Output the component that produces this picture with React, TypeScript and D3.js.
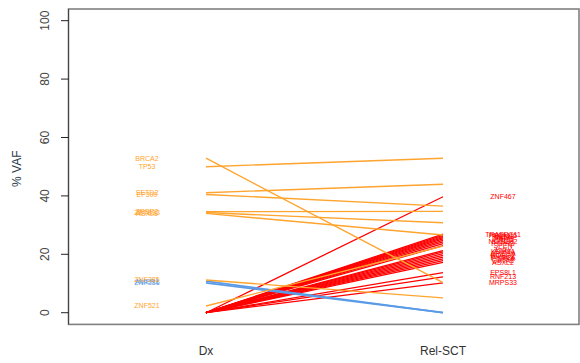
import * as d3 from "d3";

const W = 580;
const H = 363;
const BOX = { left: 68.5, top: 9, right: 579, bottom: 324.4 };

const timepoints = ["Dx", "Rel-SCT"];
const yTicks = [0, 20, 40, 60, 80, 100];

// orange: present at Dx
const orangeGenes = ["BRCA2", "TP53", "SETD2", "EP300", "ZRSR2", "ZBTB33", "ASXL1", "ZNF385", "ZNF521"];
const orangeDx = [52.9, 50.0, 41.1, 40.5, 34.6, 34.3, 34.0, 11.2, 2.3];
const orangeRel = [10.3, 52.9, 44.0, 36.5, 34.7, 30.8, 26.6, 5.1, 22.8];

// blue: lost at relapse
const blueGenes = ["AMER1", "ZNF286"];
const blueDx = [10.8, 10.2];
const blueRel = [0, 0];

// red: gained at relapse
const redGenes = [
  "ZNF467", "TRAPPC11", "PRDM15", "RNF43", "FAT4", "ZFHX3", "CHD7", "NOTCH2", "PTPRB", "SPEN",
  "ATRX", "KDM6A", "ARID1A", "ROBO2", "PIK3CA", "PTPRA", "GATA2", "ASXL2", "EPS8L1", "RNF213", "MRPS33",
];
const redDx = [0, 0, 0, 0, 0, 0, 0, 0, 0, 0, 0, 0, 0, 0, 0, 0, 0, 0, 0, 0, 0];
const redRel = [
  39.7, 26.9, 26.5, 26.1, 25.7, 25.3, 24.8, 24.3, 23.7, 23.0,
  21.3, 20.8, 20.2, 19.6, 19.0, 18.4, 17.8, 17.2, 13.7, 12.3, 10.2,
];

const ORANGE = "#FFA42E";
const RED = "#FF0000";
const BLUE = "#5B9BE6";

export default function App() {
  const x = d3.scalePoint<string>().domain(timepoints).range([206, 443]);
  const y = d3.scaleLinear().domain([-4, 104]).range([BOX.bottom, BOX.top]);
  const line = d3
    .line<[string, number]>()
    .x((d) => x(d[0]) as number)
    .y((d) => y(d[1]));

  const groups = [
    { genes: redGenes, dx: redDx, rel: redRel, color: RED, side: "rel", sw: 1.3 },
    { genes: blueGenes, dx: blueDx, rel: blueRel, color: BLUE, side: "dx", sw: 1.8 },
    { genes: orangeGenes, dx: orangeDx, rel: orangeRel, color: ORANGE, side: "dx", sw: 1.4 },
  ];

  const font = "'Liberation Sans', Arial, Helvetica, sans-serif";

  return (
    <svg
      width={W}
      height={H}
      style={{ position: "fixed", left: 0, top: 0, background: "#fff" }}
      fontFamily={font}
    >
      {/* box */}
      <rect
        x={BOX.left}
        y={BOX.top}
        width={BOX.right - BOX.left}
        height={BOX.bottom - BOX.top}
        fill="none"
        stroke="#808080"
        strokeWidth={1.6}
      />
      <line x1={BOX.left} x2={BOX.left} y1={BOX.top} y2={BOX.bottom} stroke="#444" strokeWidth={1} />

      {/* y axis */}
      {yTicks.map((t) => (
        <g key={t} transform={`translate(${BOX.left},${y(t)})`}>
          <line x1={-7.5} x2={0} stroke="#222" strokeWidth={1} />
          <text
            transform="translate(-20,0) rotate(-90)"
            textAnchor="middle"
            fontSize={12}
            fill="#444"
          >
            {t}
          </text>
        </g>
      ))}
      <text
        transform={`translate(21,${(y(0) + y(100)) / 2 + 2}) rotate(-90)`}
        textAnchor="middle"
        fontSize={12}
        fill="#2a3a4c"
      >
        % VAF
      </text>

      {/* x labels */}
      {timepoints.map((t) => (
        <text key={t} x={x(t)} y={355} textAnchor="middle" fontSize={12} fill="#333">
          {t}
        </text>
      ))}

      {/* lines */}
      {groups.map((g) =>
        g.genes.map((gene, i) => (
          <path
            key={g.color + gene}
            d={line([
              [timepoints[0], g.dx[i]],
              [timepoints[1], g.rel[i]],
            ]) as string}
            fill="none"
            stroke={g.color}
            strokeWidth={g.sw}
          />
        ))
      )}

      {/* gene labels */}
      {groups.map((g) =>
        g.genes.map((gene, i) => {
          const v = g.side === "dx" ? g.dx[i] : g.rel[i];
          const lx = g.side === "dx" ? 147 : 503;
          return (
            <text
              key={"l" + g.color + gene}
              x={lx}
              y={y(v) + 2.4}
              textAnchor="middle"
              fontSize={7}
              fill={g.color}
            >
              {gene}
            </text>
          );
        })
      )}
    </svg>
  );
}
